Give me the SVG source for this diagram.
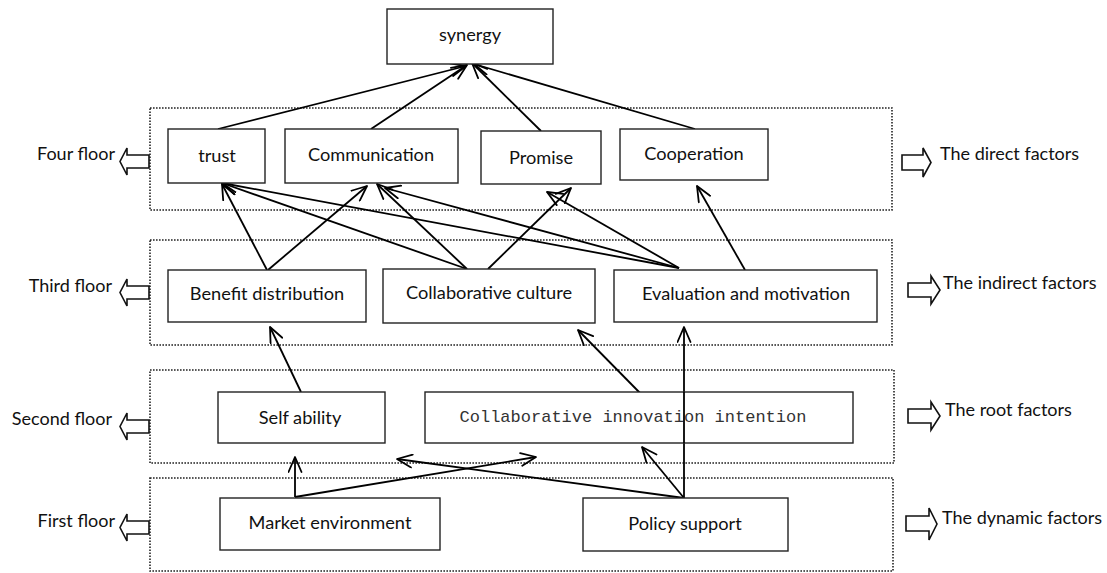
<svg xmlns="http://www.w3.org/2000/svg" width="1107" height="573" viewBox="0 0 1107 573">
<style>
  .bg{fill:#fff}
  .node{fill:#fff;stroke:#222;stroke-width:1.4}
  .floor{fill:none;stroke:#222;stroke-width:1.6;stroke-dasharray:1.6 1.4}
  .lbl{font-family:Lato,"Liberation Sans",sans-serif;font-size:18.2px;fill:#111;text-anchor:middle;dominant-baseline:central}
  .mono{font-family:"Liberation Mono","DejaVu Sans Mono",monospace;font-size:17px;fill:#333;text-anchor:middle;dominant-baseline:central}
  .side{font-family:Lato,"Liberation Sans",sans-serif;font-size:18px;fill:#111;dominant-baseline:central}
  .blk{fill:#fff;stroke:#111;stroke-width:1.6;stroke-linejoin:miter}
  .edge{stroke:#000;stroke-width:1.8;fill:none;marker-end:url(#ah)}
</style>
<defs>
  <marker id="ah" viewBox="0 0 17 15" refX="16" refY="7.5" markerWidth="17" markerHeight="15" markerUnits="userSpaceOnUse" orient="auto">
    <path d="M1,1 L16,7.5 L1,14" fill="none" stroke="#000" stroke-width="1.8" stroke-linecap="round" stroke-linejoin="round"/>
  </marker>
</defs>
<rect class="bg" x="0" y="0" width="1107" height="573"/>

<g id="floors">
  <rect class="floor" x="150" y="108" width="742" height="102"/>
  <rect class="floor" x="150" y="240" width="742" height="105"/>
  <rect class="floor" x="150" y="370" width="744" height="93"/>
  <rect class="floor" x="150" y="478" width="743" height="93"/>
</g>

<g id="left-labels">
  <text class="side" x="115" y="153" text-anchor="end">Four floor</text>
  <path class="blk" d="M149,155 H127 V148 L120,161.5 L127,175 V168 H149 Z"/>
  <text class="side" x="112" y="285" text-anchor="end">Third floor</text>
  <path class="blk" d="M149,286 H127 V279 L120,292.5 L127,306 V299 H149 Z"/>
  <text class="side" x="112" y="418" text-anchor="end">Second floor</text>
  <path class="blk" d="M149,420 H127 V413 L120,426.5 L127,440 V433 H149 Z"/>
  <text class="side" x="115" y="520" text-anchor="end">First floor</text>
  <path class="blk" d="M149,521 H127 V514 L120,527.5 L127,541 V534 H149 Z"/>
</g>

<g id="right-labels">
  <path class="blk" d="M902,155 H923 V148 L931,162.5 L923,177 V170 H902 Z"/>
  <text class="side" x="940" y="153">The direct factors</text>
  <path class="blk" d="M908,283 H931 V276 L940,290 L931,304 V297 H908 Z"/>
  <text class="side" x="943" y="282">The indirect factors</text>
  <path class="blk" d="M908,409 H931 V402 L940,416 L931,430 V423 H908 Z"/>
  <text class="side" x="945" y="409">The root factors</text>
  <path class="blk" d="M906,516 H929 V508 L937,524 L929,540 V531 H906 Z"/>
  <text class="side" x="942" y="517">The dynamic factors</text>
</g>

<g id="connectors">
  <line class="edge" x1="218" y1="129" x2="466" y2="66"/>
  <line class="edge" x1="371" y1="129" x2="467" y2="65"/>
  <line class="edge" x1="541" y1="131" x2="472" y2="63"/>
  <line class="edge" x1="695" y1="129" x2="474" y2="64"/>
  <line class="edge" x1="267" y1="270" x2="222" y2="184"/>
  <line class="edge" x1="268" y1="270" x2="367" y2="186"/>
  <line class="edge" x1="467" y1="269" x2="222" y2="183"/>
  <line class="edge" x1="467" y1="269" x2="377" y2="184"/>
  <line class="edge" x1="488" y1="269" x2="571" y2="188"/>
  <line class="edge" x1="679" y1="268" x2="222" y2="183"/>
  <line class="edge" x1="679" y1="268" x2="385" y2="188"/>
  <line class="edge" x1="679" y1="268" x2="547" y2="192"/>
  <line class="edge" x1="745" y1="270" x2="697" y2="186"/>
  <line class="edge" x1="301" y1="392" x2="270" y2="327"/>
  <line class="edge" x1="640" y1="393" x2="578" y2="330"/>
  <line class="edge" x1="684" y1="498" x2="684" y2="327"/>
  <line class="edge" x1="295" y1="497" x2="295" y2="457"/>
  <line class="edge" x1="295" y1="497" x2="536" y2="457"/>
  <line class="edge" x1="684" y1="498" x2="397" y2="459"/>
  <line class="edge" x1="684" y1="498" x2="642" y2="447"/>
</g>

<g id="synergy"><rect class="node" x="387" y="9" width="166" height="55"/><text class="lbl" x="470" y="34">synergy</text></g>
<g id="trust"><rect class="node" x="168" y="129" width="97" height="54"/><text class="lbl" x="217" y="155">trust</text></g>
<g id="communication"><rect class="node" x="285" y="129" width="173" height="54"/><text class="lbl" x="371" y="154">Communication</text></g>
<g id="promise"><rect class="node" x="481" y="131" width="120" height="53"/><text class="lbl" x="541" y="157">Promise</text></g>
<g id="cooperation"><rect class="node" x="620" y="129" width="148" height="51"/><text class="lbl" x="694" y="153">Cooperation</text></g>

<g id="benefit"><rect class="node" x="168" y="270" width="198" height="52"/><text class="lbl" x="267" y="293">Benefit distribution</text></g>
<g id="culture"><rect class="node" x="383" y="269" width="212" height="54"/><text class="lbl" x="489" y="292">Collaborative culture</text></g>
<g id="evaluation"><rect class="node" x="614" y="270" width="263" height="52"/><text class="lbl" x="746" y="293">Evaluation and motivation</text></g>

<g id="self"><rect class="node" x="218" y="392" width="167" height="51"/><text class="lbl" x="300" y="417">Self ability</text></g>
<g id="intention"><rect class="node" x="425" y="392" width="428" height="51"/><text class="mono" x="633" y="417">Collaborative innovation intention</text></g>

<g id="market"><rect class="node" x="220" y="498" width="220" height="52"/><text class="lbl" x="330" y="522">Market environment</text></g>
<g id="policy"><rect class="node" x="583" y="498" width="205" height="53"/><text class="lbl" x="685" y="523">Policy support</text></g>

<line x1="684" y1="392" x2="684" y2="443" stroke="#000" stroke-width="1.8"/>
</svg>
